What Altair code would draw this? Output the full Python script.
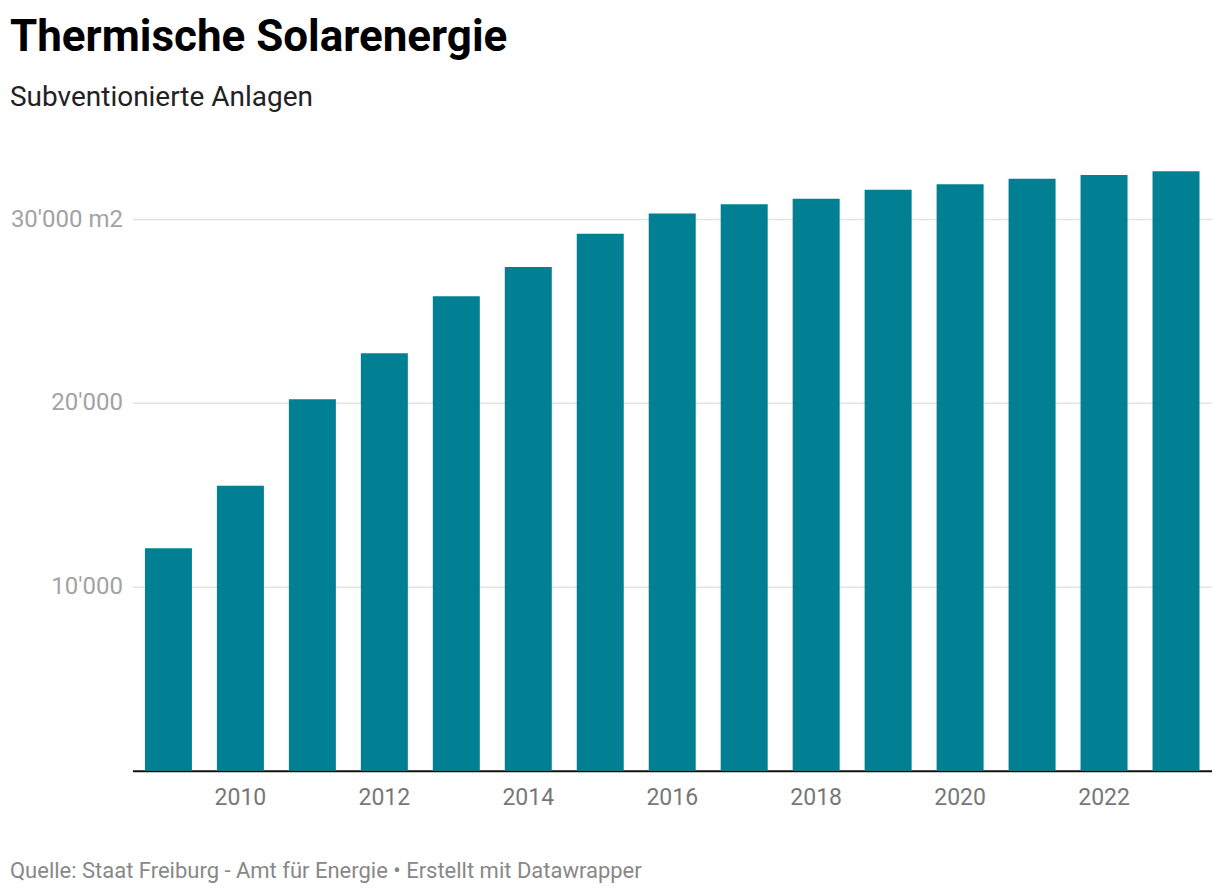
import altair as alt
import pandas as pd

years = list(range(2009, 2024))
values = [12100, 15500, 20200, 22700, 25800, 27400, 29200, 30300,
          30800, 31100, 31600, 31900, 32200, 32400, 32600]
x_ticks = [2010, 2012, 2014, 2016, 2018, 2020, 2022]
y_ticks = [10000, 20000, 30000]

title_text = "Thermische Solarenergie"
subtitle_text = "Subventionierte Anlagen"
footer_text = "Quelle: Staat Freiburg - Amt für Energie • Erstellt mit Datawrapper"

FONT = "Roboto"
W = 1080
H = 607
TOP = 163.8
LEFT = 132.5

df = pd.DataFrame({"year": years, "value": values})

bars = alt.Chart(df).mark_bar(color="#018093").encode(
    x=alt.X("year:O",
            scale=alt.Scale(paddingInner=0.347, paddingOuter=0.1735),
            axis=alt.Axis(title=None, values=x_ticks, labelAngle=0, ticks=False,
                          domainColor="#111111", domainWidth=2,
                          labelColor="#777777", labelFontSize=23, labelFont=FONT,
                          labelPadding=16)),
    y=alt.Y("value:Q",
            scale=alt.Scale(domain=[0, 33000], nice=False),
            axis=alt.Axis(title=None, values=y_ticks, domain=False, ticks=False,
                          gridColor="#e3e3e3", gridWidth=1.5,
                          labelColor="#a3a3a3", labelFontSize=24, labelFont=FONT,
                          labelPadding=10,
                          labelExpr="datum.value == 30000 ? \"30'000 m2\" : replace(format(datum.value, ','), ',', \"'\")")),
)

def text_layer(txt, y, size, weight, color):
    return alt.Chart(pd.DataFrame({"t": [txt]})).mark_text(
        align="left", baseline="alphabetic", font=FONT, fontSize=size,
        fontWeight=weight, color=color
    ).encode(text="t:N", x=alt.value(10 - LEFT), y=alt.value(y - TOP))

title = text_layer(title_text, 51, 44, "bold", "#000000")
subtitle = text_layer(subtitle_text, 106, 28, "normal", "#222222")
footer = text_layer(footer_text, 878, 22, "normal", "#888888")

chart = alt.layer(bars, title, subtitle, footer).properties(
    width=W, height=H,
    padding={"left": LEFT - 8, "top": TOP - 8, "right": 0, "bottom": 115},
    autosize=alt.AutoSizeParams(type="none"),
    background="white",
).configure_view(stroke=None)

chart.save("out.html", embed_options={"renderer": "svg", "actions": False})
